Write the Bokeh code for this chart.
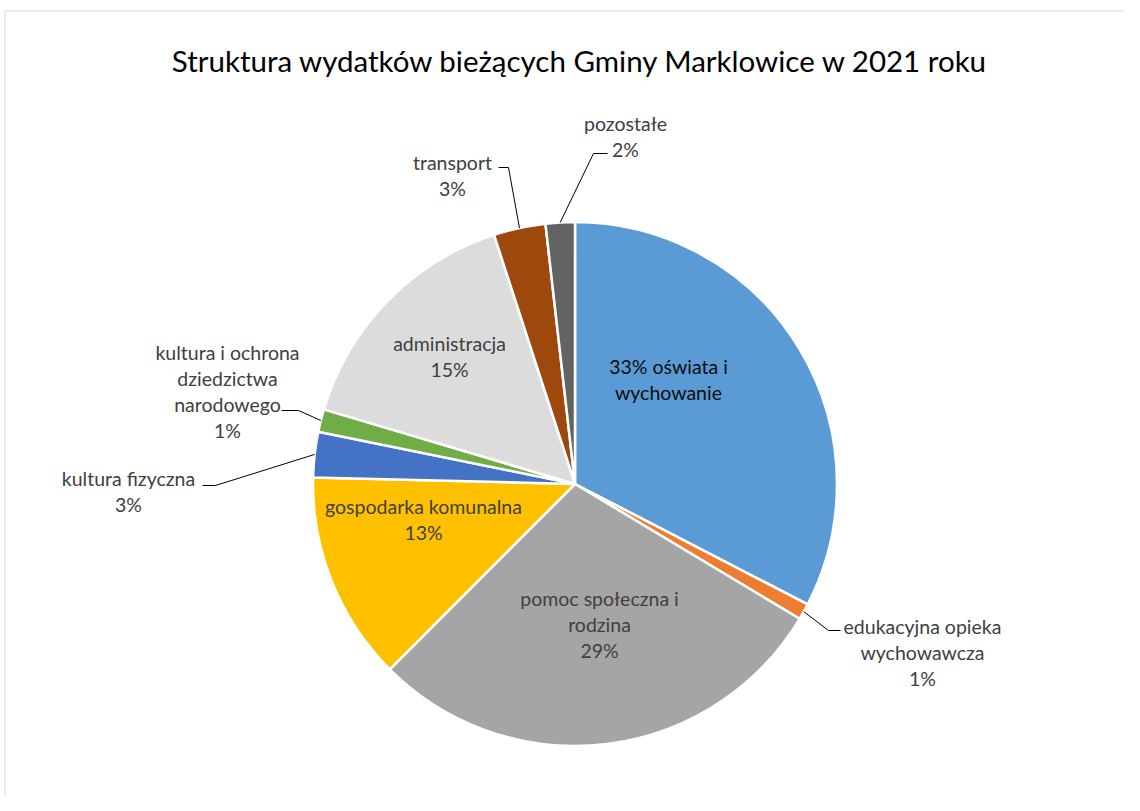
import math
from bokeh.plotting import figure
from bokeh.models import Range1d
from bokeh.core.properties import value
from bokeh.embed import file_html
from bokeh.resources import INLINE

# ---- data ----
categories = ["oświata i wychowanie", "edukacyjna opieka wychowawcza",
              "pomoc społeczna i rodzina", "gospodarka komunalna",
              "kultura fizyczna", "kultura i ochrona dziedzictwa narodowego",
              "administracja", "transport", "pozostałe"]
values_pct = [32.6, 1.0, 28.9, 12.9, 2.8, 1.4, 15.4, 3.2, 1.8]
label_lines = [
    ["33% oświata i", "wychowanie"],
    ["edukacyjna opieka", "wychowawcza", "1%"],
    ["pomoc społeczna i", "rodzina", "29%"],
    ["gospodarka komunalna", "13%"],
    ["kultura fizyczna", "3%"],
    ["kultura i ochrona", "dziedzictwa", "narodowego", "1%"],
    ["administracja", "15%"],
    ["transport", "3%"],
    ["pozostałe", "2%"],
]
title = "Struktura wydatków bieżących Gminy Marklowice w 2021 roku"

# ---- style / layout ----
colors = ["#5B9BD5", "#ED7D31", "#A5A5A5", "#FFC000", "#4472C4",
          "#70AD47", "#DCDCDC", "#9E480E", "#636363"]
text_colors = ["#0d0d0d"] + ["#404040"] * 8
# label first-line anchor (reference pixel coords), line step
label_pos = [(668, 366), (922, 626), (599, 598), (423, 506), (128, 478),
             (227, 352), (449, 343), (452, 162), (625, 123)]
line_step = 26
# leader line elbows (ref px): points after the start on pie edge
leaders = {
    1: [(828, 630), (840, 630)],
    4: [(215, 485), (202, 485)],
    5: [(298, 410), (281, 410)],
    7: [(508, 167), (498, 167)],
    8: [(593, 153), (607, 153)],
}

W, H = 1124, 795
FONT = "Lato"

def Y(ry):  # reference pixel y -> data y
    return H - ry

p = figure(width=W, height=H, output_backend="svg", toolbar_location=None,
           x_range=Range1d(0, W), y_range=Range1d(0, H),
           min_border=0)
p.axis.visible = False
p.grid.visible = False
p.outline_line_color = None
p.background_fill_color = "white"

# chart frame (top and left edges visible in reference)
p.line(x=[4.5, W], y=[Y(10.5), Y(10.5)], line_color="#D9D9D9", line_width=1)
p.line(x=[4.5, 4.5], y=[Y(10.5), 0], line_color="#D9D9D9", line_width=1)

cx, cy, r = 574.5, 483.5, 262
total = sum(values_pct)
starts, ends, mids = [], [], []
acc = 0.0
for v in values_pct:
    f0 = acc / total
    acc += v
    f1 = acc / total
    starts.append(math.pi / 2 - f0 * 2 * math.pi)
    ends.append(math.pi / 2 - f1 * 2 * math.pi)
    mids.append((f0 + f1) / 2)

p.wedge(x=[cx] * len(values_pct), y=[Y(cy)] * len(values_pct), radius=r,
        start_angle=starts, end_angle=ends, direction="clock",
        fill_color=colors, line_color="white", line_width=2.5)

# leader lines
for i, pts in leaders.items():
    th = mids[i] * 2 * math.pi
    sx = cx + r * math.sin(th)
    sy = cy - r * math.cos(th)
    xs = [sx] + [q[0] for q in pts]
    ys = [Y(sy)] + [Y(q[1]) for q in pts]
    p.line(x=xs, y=ys, line_color="black", line_width=1)

# labels
for i, lines in enumerate(label_lines):
    lx, ly = label_pos[i]
    for k, t in enumerate(lines):
        p.text(x=[lx], y=[Y(ly + k * line_step)], text=[t],
               text_align="center", text_baseline="middle",
               text_font=value(FONT), text_font_size="19.5px",
               text_color=text_colors[i])

p.text(x=[580], y=[Y(60)], text=[title], text_align="center",
       text_baseline="middle", text_font=value(FONT),
       text_font_size="29.5px", text_color="#000000")

open("out.html", "w").write(file_html(p, INLINE))
